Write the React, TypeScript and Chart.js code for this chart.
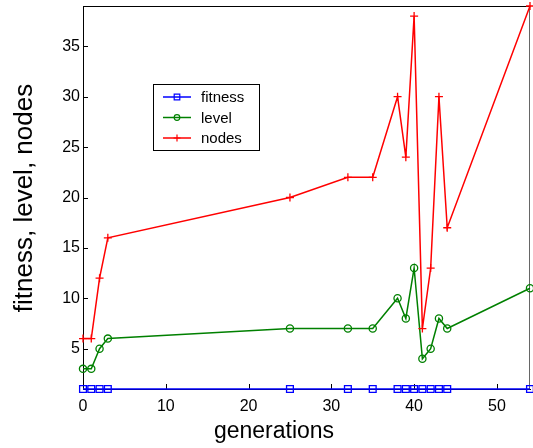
import React, { useEffect, useRef } from 'react';
import { Chart, registerables } from 'chart.js';

Chart.register(...registerables);

const generations = [0, 1, 2, 3, 25, 32, 35, 38, 39, 40, 41, 42, 43, 44, 54];
const fitness = [1, 1, 1, 1, 1, 1, 1, 1, 1, 1, 1, 1, 1, 1, 1];
const level = [3, 3, 5, 6, 7, 7, 7, 10, 8, 13, 4, 5, 8, 7, 11];
const nodes = [6, 6, 12, 16, 20, 22, 22, 30, 24, 38, 7, 13, 30, 17, 39];
const xTicks = [0, 10, 20, 30, 40, 50];
const yTicks = [5, 10, 15, 20, 25, 30, 35];
const seriesNames = ['fitness', 'level', 'nodes'];
const seriesColors = ['#0000ff', '#008000', '#ff0000'];
const seriesMarkers = ['rect', 'circle', 'cross'];
const xTitle = 'generations';
const yTitle = 'fitness, level, nodes';

const FONT = '"Liberation Sans", Arial, sans-serif';

function drawMarker(ctx: CanvasRenderingContext2D, kind: string, x: number, y: number, r: number) {
  ctx.beginPath();
  if (kind === 'rect') {
    ctx.rect(x - r, y - r, 2 * r, 2 * r);
  } else if (kind === 'circle') {
    ctx.arc(x, y, r, 0, Math.PI * 2);
  } else {
    ctx.moveTo(x - r, y);
    ctx.lineTo(x + r, y);
    ctx.moveTo(x, y - r);
    ctx.lineTo(x, y + r);
  }
  ctx.stroke();
}

const decorPlugin = {
  id: 'decor',
  beforeDatasetsDraw(chart: any) {
    const { ctx, chartArea, scales } = chart;
    const { left, right, top, bottom } = chartArea;
    ctx.save();
    ctx.lineWidth = 1;
    ctx.strokeStyle = '#000';
    ctx.beginPath();
    ctx.moveTo(left, top + 0.5);
    ctx.lineTo(right, top + 0.5);
    ctx.stroke();
    ctx.strokeStyle = '#666';
    ctx.beginPath();
    ctx.moveTo(right - 0.5, top);
    ctx.lineTo(right - 0.5, bottom);
    ctx.stroke();
    ctx.strokeStyle = '#000';
    ctx.beginPath();
    for (const v of xTicks) {
      const px = Math.round(scales.x.getPixelForValue(v)) + 0.5;
      ctx.moveTo(px, bottom);
      ctx.lineTo(px, bottom - 5);
    }
    for (const v of yTicks) {
      const py = Math.round(scales.y.getPixelForValue(v)) + 0.5;
      ctx.moveTo(left, py);
      ctx.lineTo(left + 5, py);
    }
    ctx.stroke();
    ctx.restore();
  },
  afterDraw(chart: any) {
    const { ctx } = chart;
    ctx.save();
    ctx.fillStyle = '#000';
    ctx.font = `23px ${FONT}`;
    ctx.textAlign = 'center';
    ctx.textBaseline = 'alphabetic';
    ctx.fillText(xTitle, 274, 438);
    ctx.save();
    ctx.translate(32, 198);
    ctx.rotate(-Math.PI / 2);
    ctx.font = `26px ${FONT}`;
    ctx.fillText(yTitle, 0, 0);
    ctx.restore();

    const bx = 153.5, by = 84.5, bw = 106, bh = 66;
    ctx.fillStyle = '#fff';
    ctx.fillRect(bx, by, bw, bh);
    ctx.strokeStyle = '#000';
    ctx.lineWidth = 1;
    ctx.strokeRect(bx, by, bw, bh);
    const rows = [97, 117.5, 138];
    ctx.font = `15px ${FONT}`;
    ctx.textAlign = 'left';
    ctx.textBaseline = 'middle';
    seriesNames.forEach((name, i) => {
      const y = rows[i];
      ctx.strokeStyle = seriesColors[i];
      ctx.lineWidth = 1.5;
      ctx.beginPath();
      ctx.moveTo(163, y);
      ctx.lineTo(191, y);
      ctx.stroke();
      ctx.lineWidth = 1.2;
      drawMarker(ctx, seriesMarkers[i], 177, y, i === 2 ? 3.5 : 2.8);
      ctx.fillStyle = '#000';
      ctx.fillText(name, 201, y + 1);
    });
    ctx.restore();
  },
};

export default function App() {
  const canvasRef = useRef<HTMLCanvasElement | null>(null);

  useEffect(() => {
    document.body.style.margin = '0';
    const canvas = canvasRef.current;
    if (!canvas) return;
    const mk = (i: number, data: number[], radius: number) => ({
      label: seriesNames[i],
      data: generations.map((g, k) => ({ x: g, y: data[k] })),
      borderColor: seriesColors[i],
      backgroundColor: 'rgba(0,0,0,0)',
      borderWidth: 1.5,
      pointStyle: seriesMarkers[i],
      pointRadius: radius,
      pointBorderColor: seriesColors[i],
      pointBackgroundColor: 'rgba(0,0,0,0)',
      pointBorderWidth: 1.3,
      tension: 0,
      clip: false,
    });
    const chart = new Chart(canvas, {
      type: 'line',
      data: {
        datasets: [mk(2, nodes, 4), mk(1, level, 3.6), mk(0, fitness, 4.8)] as any,
      },
      options: {
        animation: false,
        responsive: false,
        devicePixelRatio: 1,
        layout: { autoPadding: false, padding: { top: 6, right: 3, left: 0, bottom: 0 } },
        plugins: {
          legend: { display: false },
          tooltip: { enabled: false },
        },
        scales: {
          x: {
            type: 'linear',
            min: 0,
            max: 54,
            afterBuildTicks: (s: any) => {
              s.ticks = xTicks.map((v) => ({ value: v }));
            },
            afterFit: (s: any) => {
              s.height = 59;
              s.paddingLeft = 0;
              s.paddingRight = 0;
            },
            grid: { display: false, drawTicks: false },
            border: { display: true, color: '#000', width: 1 },
            ticks: {
              color: '#000',
              font: { family: FONT, size: 16 },
              padding: 8,
              maxRotation: 0,
              autoSkip: false,
            },
          },
          y: {
            type: 'linear',
            min: 1,
            max: 39,
            afterBuildTicks: (s: any) => {
              s.ticks = yTicks.map((v) => ({ value: v }));
            },
            afterFit: (s: any) => {
              s.width = 83;
              s.paddingTop = 0;
              s.paddingBottom = 0;
            },
            grid: { display: false, drawTicks: false },
            border: { display: true, color: '#000', width: 1 },
            ticks: {
              color: '#000',
              font: { family: FONT, size: 16 },
              padding: 3,
              autoSkip: false,
            },
          },
        },
      },
      plugins: [decorPlugin],
    });
    return () => chart.destroy();
  }, []);

  return (
    <div style={{ width: 533, height: 448, background: '#fff' }}>
      <canvas ref={canvasRef} width={533} height={448} style={{ display: 'block' }} />
    </div>
  );
}
